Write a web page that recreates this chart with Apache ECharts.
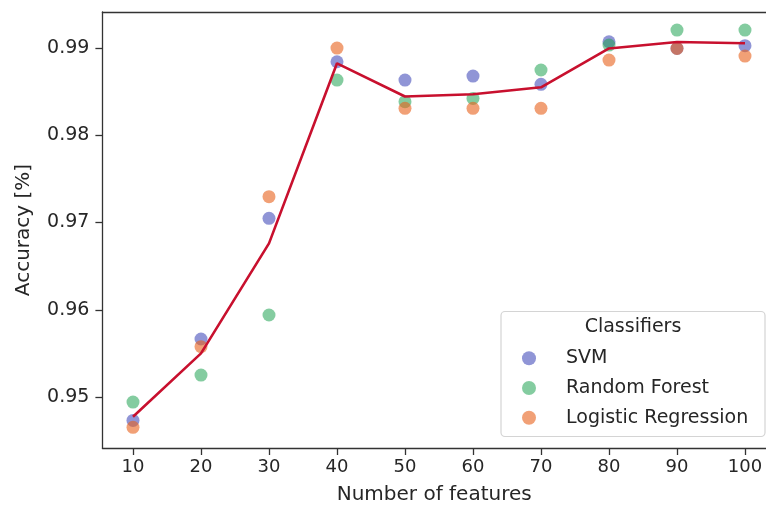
<!DOCTYPE html>
<html>
<head>
<meta charset="utf-8">
<script src="https://cdn.jsdelivr.net/npm/echarts@6/dist/echarts.min.js"></script>
<style>
html,body{margin:0;padding:0;background:#fff;}
#c{width:766px;height:510px;}
</style>
</head>
<body>
<div id="c"></div>
<script>
const features = [10, 20, 30, 40, 50, 60, 70, 80, 90, 100];
const svm = [0.94732, 0.95665, 0.97048, 0.98843, 0.98633, 0.98679, 0.98584, 0.99072, 0.98996, 0.99027];
const randomForest = [0.94942, 0.95252, 0.95940, 0.98633, 0.98385, 0.98423, 0.98748, 0.99034, 0.99206, 0.99206];
const logisticRegression = [0.94653, 0.95577, 0.97296, 0.99000, 0.98309, 0.98309, 0.98309, 0.98862, 0.98996, 0.98908];
const meanLine = [0.94775, 0.95500, 0.96761, 0.98825, 0.98445, 0.98470, 0.98550, 0.98995, 0.99070, 0.99055];
const xTicks = [10, 20, 30, 40, 50, 60, 70, 80, 90, 100];
const yTicks = [0.95, 0.96, 0.97, 0.98, 0.99];

const pair = (ys) => features.map((x, i) => [x, ys[i]]);
const FONT = 'DejaVu Sans';
const TXT = '#262626';
const AX = '#333333';

const chart = echarts.init(document.getElementById('c'), null, {renderer: 'canvas'});
const scatterBase = {type: 'scatter', symbol: 'circle', symbolSize: 13, z: 2};
chart.setOption({
  animation: false,
  backgroundColor: '#ffffff',
  grid: {left: 102.4, top: 12, right: 0, height: 436, show: false},
  xAxis: [{
    type: 'value', min: 5.5, max: 103.09,
    name: 'Number of features', nameLocation: 'middle', nameGap: 37,
    nameTextStyle: {fontFamily: FONT, fontSize: 20, color: TXT},
    axisLine: {show: true, lineStyle: {color: AX, width: 1.3}},
    axisTick: {show: true, inside: false, length: 7, lineStyle: {color: AX, width: 1.3}, customValues: xTicks},
    axisLabel: {fontFamily: FONT, fontSize: 18, color: TXT, margin: 10, customValues: xTicks, formatter: v => String(v)},
    splitLine: {show: false}
  }, {
    type: 'value', position: 'top', min: 5.5, max: 103.09,
    axisLine: {show: true, onZero: false, lineStyle: {color: AX, width: 1.3}},
    axisTick: {show: false}, axisLabel: {show: false}, splitLine: {show: false}
  }],
  yAxis: {
    type: 'value', min: 0.94416, max: 0.99413,
    name: 'Accuracy [%]', nameLocation: 'middle', nameGap: 69, nameRotate: 90,
    nameTextStyle: {fontFamily: FONT, fontSize: 20, color: TXT},
    axisLine: {show: true, lineStyle: {color: AX, width: 1.3}},
    axisTick: {show: true, inside: false, length: 7, lineStyle: {color: AX, width: 1.3}, customValues: yTicks},
    axisLabel: {fontFamily: FONT, fontSize: 19, color: TXT, margin: 13, customValues: yTicks, formatter: v => v.toFixed(2)},
    splitLine: {show: false}
  },
  graphic: [
    {type: 'rect', z: 50, shape: {x: 501, y: 311.5, width: 264, height: 125, r: 4},
     style: {fill: 'rgba(255,255,255,0.85)', stroke: '#d4d4d4', lineWidth: 1.2}},
    {type: 'text', z: 51, style: {text: 'Classifiers', x: 633, y: 327, align: 'center', verticalAlign: 'middle',
     font: '19px "DejaVu Sans"', fill: TXT}}
  ],
  legend: {
    z: 60, orient: 'vertical', left: 517, top: 343.3, icon: 'circle',
    itemWidth: 14, itemHeight: 14, itemGap: 9.7,
    textStyle: {fontFamily: FONT, fontSize: 19, color: TXT, lineHeight: 20, padding: [0, 0, 0, 25]},
    data: ['SVM', 'Random Forest', 'Logistic Regression']
  },
  series: [
    Object.assign({}, scatterBase, {name: 'SVM', data: pair(svm), itemStyle: {color: '#3f49b8', opacity: 0.58}}),
    Object.assign({}, scatterBase, {name: 'Random Forest', data: pair(randomForest), itemStyle: {color: '#1fa352', opacity: 0.55}}),
    Object.assign({}, scatterBase, {name: 'Logistic Regression', data: pair(logisticRegression), itemStyle: {color: '#e8601a', opacity: 0.6}}),
    {type: 'line', name: 'Mean', data: pair(meanLine), symbol: 'none', z: 5,
     lineStyle: {color: '#c8102e', width: 2.6}}
  ]
});
</script>
</body>
</html>
